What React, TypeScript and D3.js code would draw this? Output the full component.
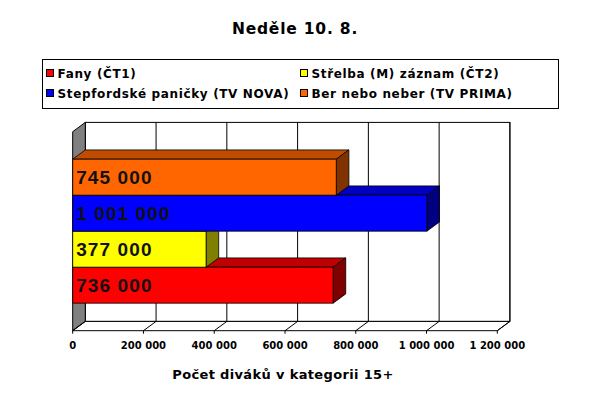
import React from "react";
import * as d3 from "d3";

const title = "Neděle 10. 8.";
const seriesNames = ["Fany (ČT1)", "Střelba (M) záznam (ČT2)", "Stepfordské paničky (TV NOVA)", "Ber nebo neber (TV PRIMA)"];
const seriesValues = [736000, 377000, 1001000, 745000];
const seriesLabels = ["736 000", "377 000", "1 001 000", "745 000"];
const frontColors = ["#FF0000", "#FFFF00", "#0000FF", "#FF6600"];
const topColors = ["#C00000", "#C0C000", "#0000C0", "#C04C00"];
const sideColors = ["#800000", "#808000", "#000080", "#803300"];
const tickValues = [0, 200000, 400000, 600000, 800000, 1000000, 1200000];
const tickLabels = ["0", "200 000", "400 000", "600 000", "800 000", "1 000 000", "1 200 000"];
const axisTitle = "Počet diváků v kategorii 15+";

const FONT = "'DejaVu Sans', Verdana, sans-serif";

export default function App() {
  const W = 596, H = 399;
  const dx = 12.6, dy = -9.3;
  const plotTop = 131.7, plotBottom = 330.7;
  const x = d3.scaleLinear().domain([0, 1200000]).range([72.7, 497.3]);
  const order = seriesNames.map((_, i) => i).reverse();
  const y = d3.scaleBand<number>().domain(order).range([plotTop, plotBottom]).paddingInner(0).paddingOuter(0.764);
  const bh = y.bandwidth();
  const x0 = x(0);
  const xMax = x(1200000);

  const pts = (a: number[][]) => a.map((p) => p.join(",")).join(" ");

  return (
    <svg width={W} height={H} style={{ position: "fixed", left: 0, top: 0, background: "#fff" }} xmlns="http://www.w3.org/2000/svg">
      <rect x={0} y={0} width={W} height={H} fill="#fff" />
      <text x={295} y={34} textAnchor="middle" fontFamily={FONT} fontWeight="bold" fontSize={15.5} letterSpacing={0.8} fill="#000">{title}</text>

      {/* legend */}
      <rect x={42.5} y={59.5} width={516} height={49} fill="#fff" stroke="#000" strokeWidth={1} />
      {seriesNames.map((n, i) => {
        const col = i % 2, row = Math.floor(i / 2);
        const lx = col === 0 ? 46.5 : 300.5;
        const ly = 69.5 + row * 20;
        return (
          <g key={n}>
            <rect x={lx} y={ly} width={7} height={7} fill={frontColors[i]} stroke="#000" strokeWidth={1} />
            <text x={lx + 11} y={ly + 8} fontFamily={FONT} fontWeight="bold" fontSize={12} letterSpacing={0.65} fill="#000">{n}</text>
          </g>
        );
      })}

      {/* back wall */}
      <rect x={x0 + dx} y={plotTop + dy} width={xMax - x0} height={plotBottom - plotTop} fill="#fff" stroke="#000" strokeWidth={1} />
      {tickValues.map((t) => (
        <line key={"g" + t} x1={x(t) + dx} x2={x(t) + dx} y1={plotTop + dy} y2={plotBottom + dy} stroke="#000" strokeWidth={1} />
      ))}
      {/* side wall */}
      <polygon points={pts([[x0, plotTop], [x0 + dx, plotTop + dy], [x0 + dx, plotBottom + dy], [x0, plotBottom]])} fill="#808080" stroke="#000" strokeWidth={1} />
      {/* floor */}
      <polygon points={pts([[x0, plotBottom], [xMax, plotBottom], [xMax + dx, plotBottom + dy], [x0 + dx, plotBottom + dy]])} fill="#fff" stroke="#000" strokeWidth={1} />
      {tickValues.map((t) => (
        <g key={"f" + t}>
          <line x1={x(t)} x2={x(t) + dx} y1={plotBottom} y2={plotBottom + dy} stroke="#000" strokeWidth={1} />
          <line x1={x(t)} x2={x(t)} y1={plotBottom} y2={plotBottom + 3} stroke="#000" strokeWidth={1} />
        </g>
      ))}

      {/* bars, bottom to top */}
      {seriesValues.map((v, i) => {
        const yt = y(i)!;
        const xv = x(v);
        return (
          <g key={"b" + i} stroke="#000" strokeWidth={0.8} strokeLinejoin="round">
            <polygon points={pts([[x0, yt], [x0 + dx, yt + dy], [xv + dx, yt + dy], [xv, yt]])} fill={topColors[i]} />
            <polygon points={pts([[xv, yt], [xv + dx, yt + dy], [xv + dx, yt + bh + dy], [xv, yt + bh]])} fill={sideColors[i]} />
            <rect x={x0} y={yt} width={xv - x0} height={bh} fill={frontColors[i]} />
          </g>
        );
      })}
      {seriesValues.map((v, i) => (
        <text key={"l" + i} x={x0 + 3.5} y={y(i)! + bh / 2 + 6.5} fontFamily="'Liberation Sans', Arial, sans-serif" fontWeight="bold" fontSize={19} letterSpacing={1.1} fill="#111">{seriesLabels[i]}</text>
      ))}

      {/* tick labels */}
      {tickValues.map((t, i) => (
        <text key={"t" + t} x={x(t)} y={349} textAnchor="middle" fontFamily={FONT} fontWeight="bold" fontSize={10} fill="#000">{tickLabels[i]}</text>
      ))}
      <text x={283} y={379} textAnchor="middle" fontFamily={FONT} fontWeight="bold" fontSize={13} letterSpacing={0.35} fill="#000">{axisTitle}</text>
    </svg>
  );
}
